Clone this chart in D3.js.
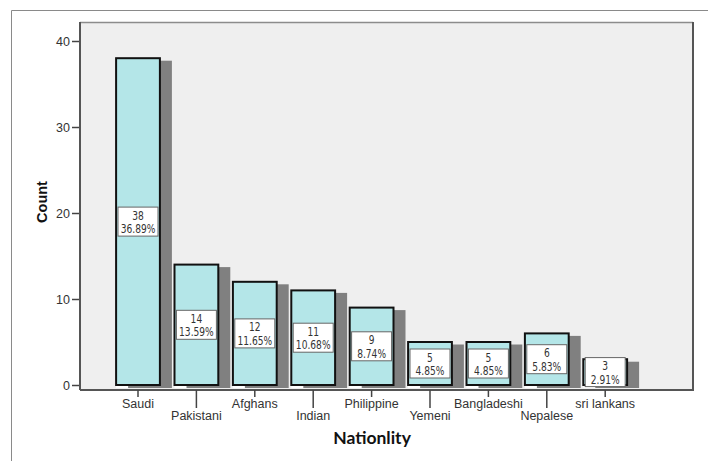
<!DOCTYPE html>
<html>
<head>
<meta charset="utf-8">
<script src="https://cdn.jsdelivr.net/npm/d3@7"></script>
<style>
  html, body { margin: 0; padding: 0; background: #fff; }
  svg { display: block; }
</style>
</head>
<body>
<svg id="chart" width="708" height="461"></svg>
<script>
// Respondents by nationality (count and share of total)
const categories = ["Saudi", "Pakistani", "Afghans", "Indian", "Philippine", "Yemeni", "Bangladeshi", "Nepalese", "sri lankans"];
const counts = [38, 14, 12, 11, 9, 5, 5, 6, 3];
const percents = ["36.89%", "13.59%", "11.65%", "10.68%", "8.74%", "4.85%", "4.85%", "5.83%", "2.91%"];
const yTicks = [0, 10, 20, 30, 40];

const svg = d3.select("#chart");
const W = 708, H = 461;
const sans = "'Liberation Sans', Arial, sans-serif";
const condensed = "'DejaVu Sans Condensed', 'DejaVu Sans', sans-serif";

// outer frame (top and left edges)
svg.append("path")
  .attr("d", `M11.5,${H} V10.5 H${W}`)
  .attr("fill", "none").attr("stroke", "#8a8a8a").attr("stroke-width", 1);

const plot = { left: 80, top: 22, right: 693, bottom: 390 };

// plot background
svg.append("rect")
  .attr("x", plot.left).attr("y", plot.top)
  .attr("width", plot.right - plot.left).attr("height", plot.bottom - plot.top)
  .attr("fill", "#efefef");

const x = d3.scaleBand()
  .domain(categories)
  .range([108.8, 634.4])
  .paddingInner(0.25)
  .paddingOuter(0.125);

const y = d3.scaleLinear().domain([0, 40]).range([385, 41]);

const data = categories.map((c, i) => ({ cat: c, count: counts[i], pct: percents[i] }));

// shadows and highlight strips behind bars
const gBars = svg.append("g");
gBars.selectAll("rect.hl").data(data).join("rect")
  .attr("class", "hl")
  .attr("x", d => x(d.cat)).attr("y", d => y(d.count) + 3)
  .attr("width", x.bandwidth()).attr("height", d => y(0) - y(d.count))
  .attr("fill", "#ffffff");
gBars.selectAll("rect.sh").data(data).join("rect")
  .attr("class", "sh")
  .attr("x", d => x(d.cat) + 12).attr("y", d => y(d.count) + 2.5)
  .attr("width", x.bandwidth()).attr("height", d => y(0) - y(d.count) + 0.5)
  .attr("fill", "#808080");
gBars.selectAll("rect.bar").data(data).join("rect")
  .attr("class", "bar")
  .attr("x", d => x(d.cat)).attr("y", d => y(d.count))
  .attr("width", x.bandwidth()).attr("height", d => y(0) - y(d.count))
  .attr("fill", "#b4e6e8").attr("stroke", "#111").attr("stroke-width", 2);

// value labels: narrow, tall digits inside a white box
const lab = svg.append("g").selectAll("g").data(data).join("g")
  .attr("transform", d => `translate(${x(d.cat) + x.bandwidth() / 2},${(y(d.count) + y(0)) / 2})`);
lab.append("rect")
  .attr("x", -20).attr("y", -14.5).attr("width", 40).attr("height", 29)
  .attr("fill", "#fff").attr("stroke", "#666").attr("stroke-width", 1);
lab.append("text")
  .attr("transform", "translate(0,-2) scale(0.88,1)")
  .attr("text-anchor", "middle")
  .attr("font-family", condensed)
  .attr("font-size", 11.5).attr("fill", "#333")
  .text(d => d.count);
lab.append("text")
  .attr("transform", "translate(0,11.5) scale(0.88,1)")
  .attr("text-anchor", "middle")
  .attr("font-family", condensed)
  .attr("font-size", 11.5).attr("fill", "#333")
  .text(d => d.pct);

// plot border: top light, right dark
svg.append("path")
  .attr("d", `M${plot.left},${plot.top + 0.5} H${plot.right}`)
  .attr("stroke", "#8c8c8c").attr("stroke-width", 1.5).attr("fill", "none");
svg.append("path")
  .attr("d", `M${plot.right},${plot.top} V${plot.bottom + 1}`)
  .attr("stroke", "#555").attr("stroke-width", 2).attr("fill", "none");

// y axis
const yAxis = svg.append("g")
  .attr("transform", `translate(${plot.left},0)`)
  .call(d3.axisLeft(y).tickValues(yTicks).tickSize(8).tickPadding(2).tickSizeOuter(0));
yAxis.select(".domain").remove();
yAxis.append("path")
  .attr("d", `M0,${plot.top} V${plot.bottom}`)
  .attr("stroke", "#555").attr("stroke-width", 2);
yAxis.selectAll(".tick line").attr("stroke", "#444").attr("stroke-width", 1.5);
yAxis.selectAll(".tick text")
  .attr("font-family", sans)
  .attr("font-size", 12.5).attr("fill", "#333");

// x axis with staggered labels
const xAxis = svg.append("g").attr("transform", `translate(0,${plot.bottom})`);
xAxis.append("path")
  .attr("d", `M${plot.left},0 H${plot.right}`)
  .attr("stroke", "#555").attr("stroke-width", 2);
const xt = xAxis.selectAll("g.tick").data(categories).join("g")
  .attr("class", "tick")
  .attr("transform", d => `translate(${x(d) + x.bandwidth() / 2},0)`);
xt.append("line")
  .attr("y1", 0).attr("y2", (d, i) => i % 2 ? 18 : 7)
  .attr("stroke", "#444").attr("stroke-width", 1.5);
xt.append("text")
  .attr("y", (d, i) => i % 2 ? 30 : 18)
  .attr("text-anchor", "middle")
  .attr("font-family", sans)
  .attr("font-size", 12.5).attr("fill", "#333")
  .text(d => d);

// axis titles
svg.append("text")
  .attr("transform", "translate(47,202) rotate(-90)")
  .attr("text-anchor", "middle")
  .attr("font-family", sans)
  .attr("font-weight", "bold").attr("font-size", 14.5).attr("fill", "#111")
  .text("Count");
svg.append("text")
  .attr("x", 372).attr("y", 444)
  .attr("text-anchor", "middle")
  .attr("font-family", "Lato, 'DejaVu Sans', sans-serif")
  .attr("font-weight", "bold").attr("font-size", 17.5).attr("fill", "#111")
  .text("Nationlity");
</script>
</body>
</html>
